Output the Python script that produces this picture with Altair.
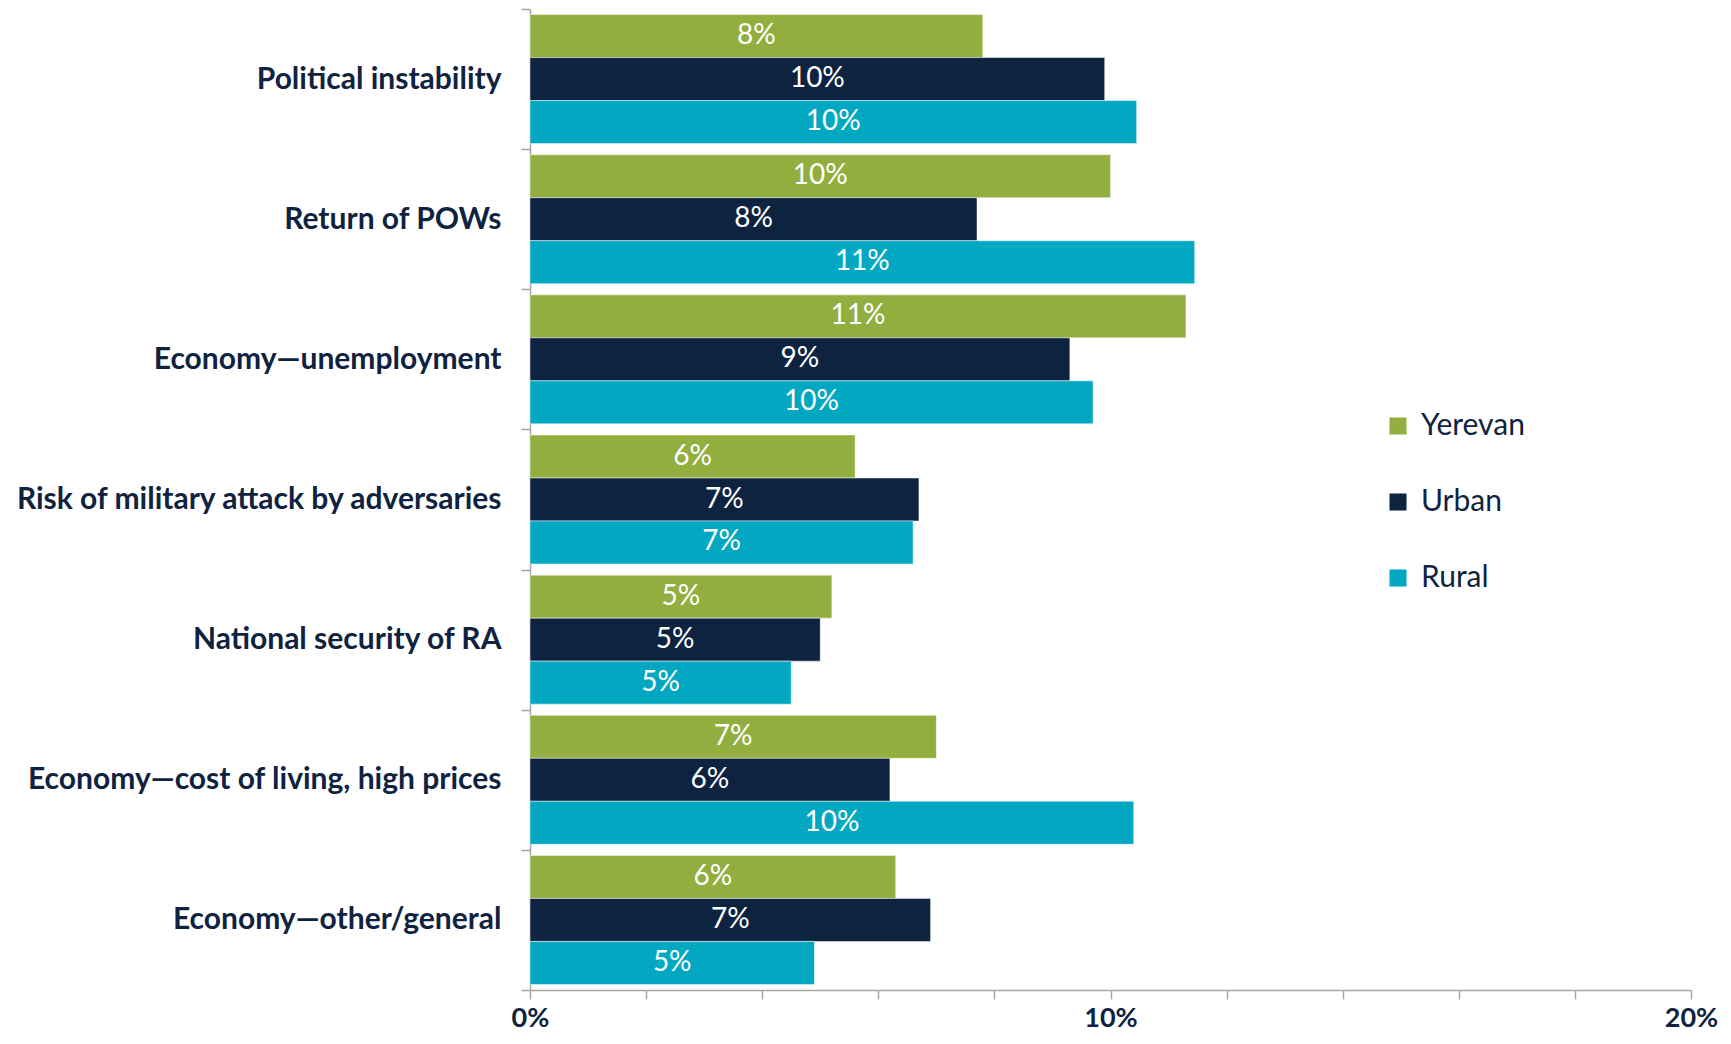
import altair as alt
import pandas as pd

categories = [
    "Political instability",
    "Return of POWs",
    "Economy—unemployment",
    "Risk of military attack by adversaries",
    "National security of RA",
    "Economy—cost of living, high prices",
    "Economy—other/general",
]
groups = ["Yerevan", "Urban", "Rural"]
yerevan = [7.8, 10.0, 11.3, 5.6, 5.2, 7.0, 6.3]
urban = [9.9, 7.7, 9.3, 6.7, 5.0, 6.2, 6.9]
rural = [10.45, 11.45, 9.7, 6.6, 4.5, 10.4, 4.9]
x_ticks = [0, 2, 4, 6, 8, 10, 12, 14, 16, 18, 20]
colors = ["#92AE3F", "#0E2340", "#02A8C2"]

rows = []
for i, c in enumerate(categories):
    for g, series in zip(groups, [yerevan, urban, rural]):
        rows.append({"category": c, "group": g, "value": series[i]})
df = pd.DataFrame(rows)

NAVY = "#0F2341"
GRAY = "#A6A6A6"
FONT = "Lato"

y_scale = alt.Scale(paddingInner=0, paddingOuter=0)
y_enc = alt.Y(
    "category:N",
    sort=categories,
    scale=y_scale,
    axis=alt.Axis(
        title=None,
        labelFont=FONT,
        labelFontWeight="bold",
        labelFontSize=30,
        labelColor=NAVY,
        labelPadding=20,
        tickBand="extent",
        tickSize=9,
        tickColor=GRAY,
        domainColor=GRAY,
        domainWidth=1.5,
        tickWidth=1.5,
        labelLimit=700,
    ),
)
yoff = alt.YOffset("group:N", sort=groups, scale=alt.Scale(paddingInner=0, paddingOuter=0.13))

x_enc = alt.X(
    "value:Q",
    scale=alt.Scale(domain=[0, 20], nice=False),
    axis=alt.Axis(
        title=None,
        values=x_ticks,
        labelExpr="datum.value % 10 === 0 ? datum.value + '%' : ''",
        labelFont=FONT,
        labelFontWeight="bold",
        labelFontSize=27,
        labelColor=NAVY,
        labelPadding=6,
        labelFlush=False,
        tickSize=9,
        tickColor=GRAY,
        domainColor=GRAY,
        domainWidth=1.5,
        tickWidth=1.5,
        grid=False,
    ),
)

bars = alt.Chart(df).mark_bar(stroke="white", strokeWidth=0.8, strokeOpacity=0.6).encode(
    y=y_enc,
    yOffset=yoff,
    x=x_enc,
    color=alt.Color(
        "group:N",
        sort=groups,
        scale=alt.Scale(domain=groups, range=colors),
        legend=alt.Legend(
            title=None,
            orient="none",
            legendX=853,
            legendY=402,
            symbolType="square",
            symbolSize=290,
            symbolStrokeWidth=0,
            labelFont=FONT,
            labelFontSize=30,
            labelColor=NAVY,
            rowPadding=46,
            labelOffset=8,
        ),
    ),
)

texts = alt.Chart(df).transform_calculate(
    mid="datum.value / 2", lab="round(datum.value) + '%'"
).mark_text(color="white", font=FONT, fontSize=28, align="center", baseline="middle").encode(
    y=alt.Y("category:N", sort=categories, scale=y_scale),
    yOffset=yoff,
    x=alt.X("mid:Q"),
    text="lab:N",
)

chart = (
    alt.layer(bars, texts)
    .properties(
        width=1161,
        height=981,
        autosize=alt.AutoSizeParams(type="none"),
        padding={"left": 522, "top": 1, "right": 28, "bottom": 44},
    )
    .configure_view(stroke=None)
)

chart.save("out.html", embed_options={"renderer": "svg", "actions": False})
